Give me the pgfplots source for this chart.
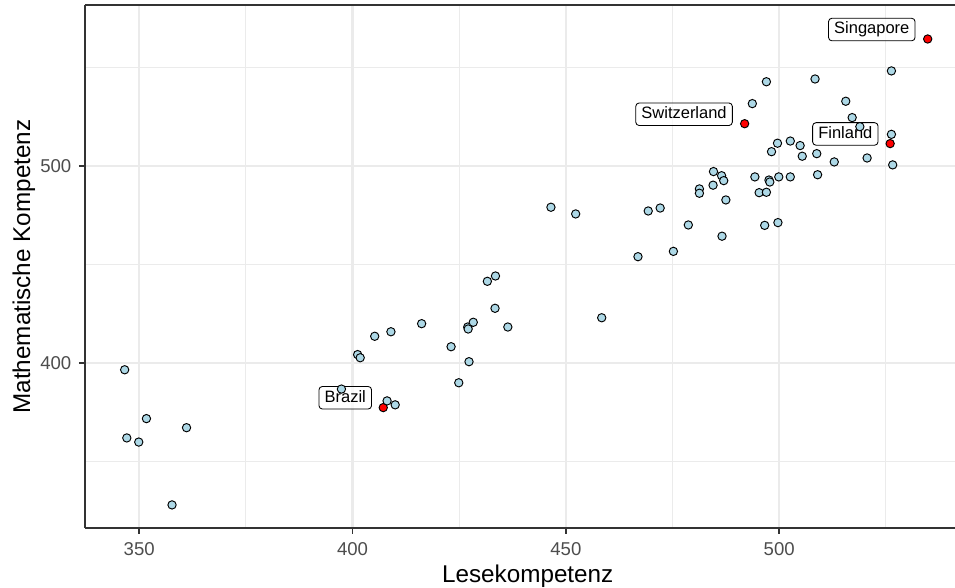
\documentclass[border=0pt]{standalone}
\usepackage{fontspec}
\setmainfont{Liberation Sans}
\usepackage{pgfplots}
\pgfplotsset{compat=1.18}
\definecolor{lblue}{HTML}{ADD8E6}
\definecolor{gridc}{HTML}{EBEBEB}
\definecolor{axc}{HTML}{333333}
\definecolor{tickc}{HTML}{4D4D4D}
\begin{document}
\begin{tikzpicture}
\useasboundingbox (-44.85bp,-31.3bp) rectangle (459.1bp,278.5bp);
\begin{axis}[
  at={(0,0)}, anchor=south west,
  scale only axis, width=459.1bp, height=275.7bp,
  xmin=337.3, xmax=541.2, ymin=316.2, ymax=581.4,
  axis x line=bottom, axis y line=left,
  axis line style={-, color=axc, line width=0.9bp},
  xtick={350,400,450,500}, ytick={400,500},
  minor xtick={375,425,475,525}, minor ytick={350,450,550},
  grid=both,
  major grid style={color=gridc, line width=1.1bp},
  minor grid style={color=gridc, line width=0.55bp},
  tick align=outside,
  major tick length=3.2bp, minor tick length=0pt,
  every tick/.style={color=axc, line width=0.9bp},
  tick label style={font=\fontsize{9.8bp}{11bp}\selectfont, color=tickc},
  /pgf/number format/assume math mode=true,
  xticklabel style={yshift=-1bp},
  yticklabel style={xshift=-0.5bp},
  xlabel={Lesekompetenz}, ylabel={Mathematische Kompetenz},
  every axis x label/.style={at={(axis description cs:0.5089,-0.1045)}, anchor=base, font=\fontsize{12.8bp}{14bp}\selectfont},
  every axis y label/.style={at={(axis description cs:-0.0632,0.5)}, rotate=90, anchor=base, font=\fontsize{12.8bp}{14bp}\selectfont},
  clip=false,
]
\addplot[only marks, mark=*, mark size=2.2bp, mark options={fill=red, draw=black, line width=0.5bp}] table {
534.8 564.3
491.9 521.3
526.0 511.2
407.2 377.2
};
\addplot[only marks, mark=*, mark size=2.2bp, mark options={fill=lblue, draw=black, line width=0.5bp}] table {
526.3 548.1
497.0 542.6
508.4 544.0
493.7 531.5
515.6 532.7
517.1 524.4
518.9 519.8
526.3 515.9
499.6 511.4
502.6 512.5
504.9 510.2
498.2 507.1
505.4 504.8
508.8 506.1
520.6 503.9
512.9 501.9
526.6 500.4
509.0 495.4
484.6 497.0
486.5 494.9
487.0 492.4
494.3 494.3
497.6 492.7
497.8 491.7
499.9 494.3
502.6 494.3
481.3 488.2
481.3 486.0
484.5 490.1
495.3 486.3
497.0 486.5
487.5 482.6
446.5 478.9
452.3 475.5
469.3 477.0
472.1 478.5
478.7 469.9
496.6 469.7
499.7 471.1
486.6 464.2
475.2 456.5
466.9 453.8
458.4 422.8
431.6 441.3
433.5 444.0
433.4 427.6
416.2 419.8
405.2 413.4
409.0 415.7
427.0 418.1
427.1 417.1
428.3 420.5
436.4 418.1
423.1 408.1
427.3 400.5
424.9 389.8
401.2 404.1
401.8 402.5
397.4 386.6
408.1 380.6
410.0 378.6
346.6 396.4
351.7 371.6
347.1 361.8
349.9 359.7
361.1 367.0
357.7 327.8
};
\draw[axc, line width=0.9bp] (rel axis cs:0,1) -- (rel axis cs:1,1);
\tikzset{lab/.style={draw=black, line width=0.45bp, rounded corners=1.8bp, fill=white, fill opacity=0.65, text opacity=1, font=\fontsize{8.7bp}{10bp}\selectfont, inner xsep=3bp, inner ysep=1.8bp, text height=6.4bp, text depth=1.9bp}}
\node[lab] at (axis cs:521.7,569.1) {Singapore};
\node[lab] at (axis cs:477.7,526.1) {Switzerland};
\node[lab] at (axis cs:515.5,516.1) {Finland};
\node[lab] at (axis cs:398.3,382.2) {Brazil};
\end{axis}
\end{tikzpicture}
\end{document}
